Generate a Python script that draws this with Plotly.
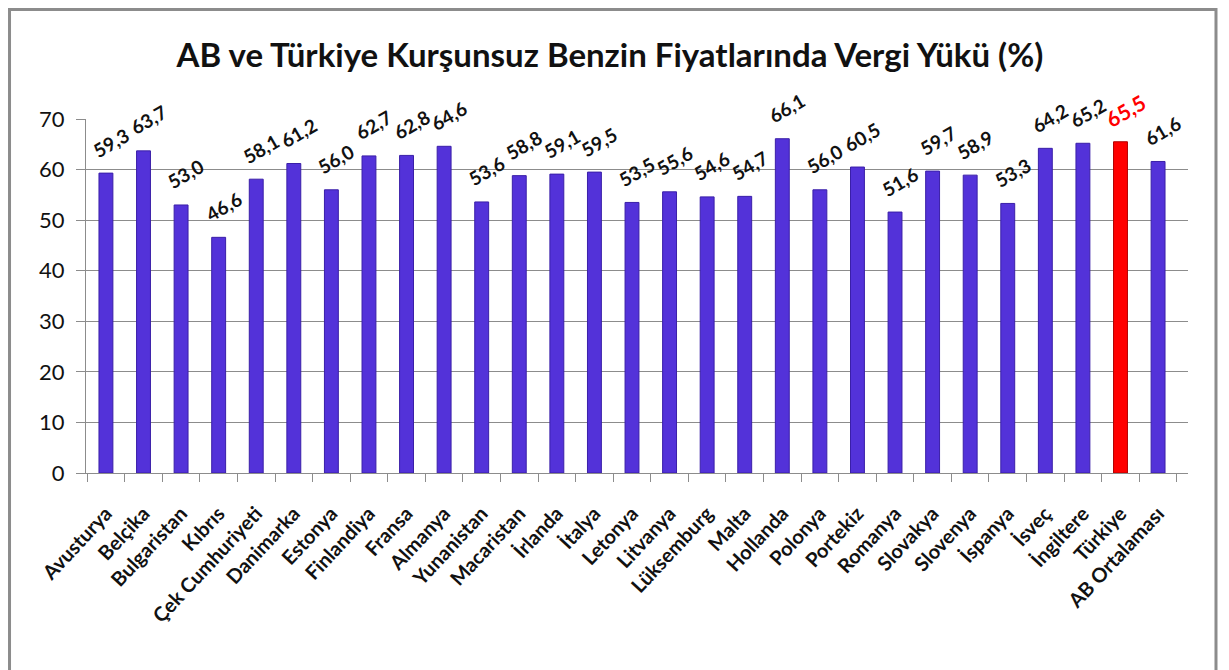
import plotly.graph_objects as go

categories = ["Avusturya", "Belçika", "Bulgaristan", "Kıbrıs", "Çek Cumhuriyeti", "Danimarka",
              "Estonya", "Finlandiya", "Fransa", "Almanya", "Yunanistan", "Macaristan", "İrlanda",
              "İtalya", "Letonya", "Litvanya", "Lüksemburg", "Malta", "Hollanda", "Polonya",
              "Portekiz", "Romanya", "Slovakya", "Slovenya", "İspanya", "İsveç", "İngiltere",
              "Türkiye", "AB Ortalaması"]
values = [59.3, 63.7, 53.0, 46.6, 58.1, 61.2, 56.0, 62.7, 62.8, 64.6, 53.6, 58.8, 59.1,
          59.5, 53.5, 55.6, 54.6, 54.7, 66.1, 56.0, 60.5, 51.6, 59.7, 58.9, 53.3, 64.2, 65.2,
          65.5, 61.6]
y_ticks = [0, 10, 20, 30, 40, 50, 60, 70]
highlight = "Türkiye"
title = "AB ve Türkiye Kurşunsuz Benzin Fiyatlarında Vergi Yükü (%)"

FONT = "Lato"
BLUE = "#5332d9"
RED = "#ff0000"

colors = [RED if c == highlight else BLUE for c in categories]
lines = ["#b00000" if c == highlight else "#3a1fa8" for c in categories]
labels = [f"{v:.1f}".replace(".", ",") for v in values]

fig = go.Figure()
fig.add_trace(go.Bar(
    x=categories, y=values,
    marker=dict(color=colors, line=dict(color=lines, width=1)),
    hoverinfo="x+y",
))

for c, v, t in zip(categories, values, labels):
    fig.add_annotation(
        x=c, y=v, text=f"<b>{t}</b>",
        showarrow=False, textangle=-30, yshift=31, xshift=5,
        font=dict(family=FONT, size=19 if c != highlight else 21,
                  color=RED if c == highlight else "#111111"),
        xanchor="center", yanchor="middle",
    )

# outer frame
fig.add_shape(type="rect", xref="paper", yref="paper",
              x0=-0.0694, x1=1.0254, y0=-0.6, y1=1.3093,
              line=dict(color="#8c8c8c", width=3), fillcolor="rgba(0,0,0,0)", layer="below")

fig.update_layout(
    width=1221, height=662, autosize=False,
    paper_bgcolor="white", plot_bgcolor="white",
    margin=dict(l=78, r=41, t=111, b=197),
    bargap=0.63,
    showlegend=False,
    title=dict(text=f"<b>{title}</b>", x=0.493, xanchor="center", y=0.929, yanchor="middle",
               font=dict(family=FONT, size=33, color="#111111")),
    font=dict(family=FONT, color="#111111"),
)
fig.update_yaxes(range=[0, 70], tickvals=y_ticks, showgrid=True, gridcolor="#8c8c8c", gridwidth=1,
                 showline=True, linecolor="#8c8c8c", linewidth=1,
                 ticks="outside", ticklen=9, tickcolor="#8c8c8c", ticklabelstandoff=7,
                 tickfont=dict(family=FONT, size=22, color="#111111"), zeroline=False)
fig.update_xaxes(tickangle=-47, showline=True, linecolor="#8c8c8c", linewidth=1,
                 ticks="outside", ticklen=8, tickcolor="#8c8c8c", tickson="boundaries",
                 ticklabelstandoff=20,
                 tickfont=dict(family=FONT, size=20, color="#111111", weight="bold"))

fig.write_html("out.html")
